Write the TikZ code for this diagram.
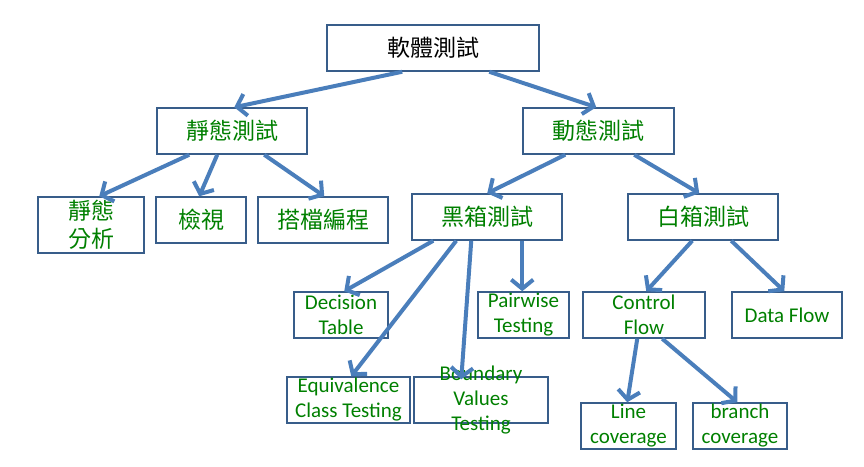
\documentclass[tikz,border=0pt]{standalone}
\usepackage{fontspec}
\setmainfont{Carlito}
\newfontfamily\cjk{Noto Sans CJK TC}
\usetikzlibrary{arrows.meta}

\definecolor{boxline}{RGB}{56,93,138}
\definecolor{arrowblue}{RGB}{74,126,187}
\definecolor{txtgreen}{RGB}{0,128,0}

\tikzset{
  box/.style={draw=boxline,line width=1.5pt,fill=white,inner sep=0pt,
    align=center,text=txtgreen,font=\fontsize{21}{25}\selectfont},
  cjkbox/.style={box,font=\cjk\fontsize{23}{28}\selectfont},
  arr/.style={arrowblue,line width=4pt,
    -{Straight Barb[length=9pt,width=22pt,line width=4pt]}}
}

\begin{document}
\begin{tikzpicture}[x=1pt,y=-1pt]
\useasboundingbox (0,0) rectangle (864,466);

% level 0 and 1
\node[cjkbox,text=black,minimum width=212,minimum height=46] (root) at (433,48) {軟體測試};
\node[cjkbox,minimum width=150,minimum height=46] (stat) at (232,131) {靜態測試};
\node[cjkbox,minimum width=151,minimum height=46] (dyn) at (598.5,131) {動態測試};

% static branch
\node[cjkbox,minimum width=106,minimum height=56] (sana) at (91,225) {靜態\\分析};
\node[cjkbox,minimum width=90,minimum height=46] (insp) at (201,220) {檢視};
\node[cjkbox,minimum width=130,minimum height=46] (pairp) at (323,220) {搭檔編程};

% dynamic branch
\node[cjkbox,minimum width=150,minimum height=46] (black) at (487,217) {黑箱測試};
\node[cjkbox,minimum width=150,minimum height=46] (white) at (703,217) {白箱測試};

\node[box,minimum width=94,minimum height=46] (dect) at (341,315) {Decision\\Table};
\node[box,minimum width=91,minimum height=46] (pairw) at (523.5,315) {Pairwise\\Testing};
\node[box,minimum width=123,minimum height=46] (equiv) at (348.5,400) {Equivalence\\Class Testing};
\node[box,minimum width=134,minimum height=46,
  label={[text=txtgreen,align=center,font=\fontsize{21}{25}\selectfont]center:Boundary\\Values\\Testing}]
  (bound) at (481,400) {};

\node[box,minimum width=122,minimum height=46] (ctrl) at (644,315) {Control\\Flow};
\node[box,minimum width=110,minimum height=46] (dataf) at (787,315) {Data Flow};
\node[box,minimum width=95,minimum height=46] (linec) at (628.5,426) {Line\\coverage};
\node[box,minimum width=94,minimum height=46] (branchc) at (740,426) {branch\\coverage};

% arrows
\draw[arr] ([xshift=76]root.south west) -- ([xshift=78]stat.north west);
\draw[arr] ([xshift=163]root.south west) -- ([xshift=74]dyn.north west);
\draw[arr] ([xshift=33]stat.south west) -- ([xshift=62]sana.north west);
\draw[arr] ([xshift=61]stat.south west) -- ([xshift=44]insp.north west);
\draw[arr] ([xshift=108]stat.south west) -- ([xshift=67]pairp.north west);
\draw[arr] ([xshift=43]dyn.south west) -- ([xshift=76]black.north west);
\draw[arr] ([xshift=112]dyn.south west) -- ([xshift=72]white.north west);
\draw[arr] ([xshift=22]black.south west) -- ([xshift=51]dect.north west);
\draw[arr] ([xshift=45]black.south west) -- ([xshift=65]equiv.north west);
\draw[arr] ([xshift=60]black.south west) -- ([xshift=48,yshift=-3]bound.north west);
\draw[arr] ([xshift=111]black.south west) -- ([xshift=45]pairw.north west);
\draw[arr] ([xshift=65]white.south west) -- ([xshift=64]ctrl.north west);
\draw[arr] ([xshift=104]white.south west) -- ([xshift=53]dataf.north west);
\draw[arr] ([xshift=55]ctrl.south west) -- ([xshift=47]linec.north west);
\draw[arr] ([xshift=80]ctrl.south west) -- ([xshift=45]branchc.north west);
\end{tikzpicture}
\end{document}
